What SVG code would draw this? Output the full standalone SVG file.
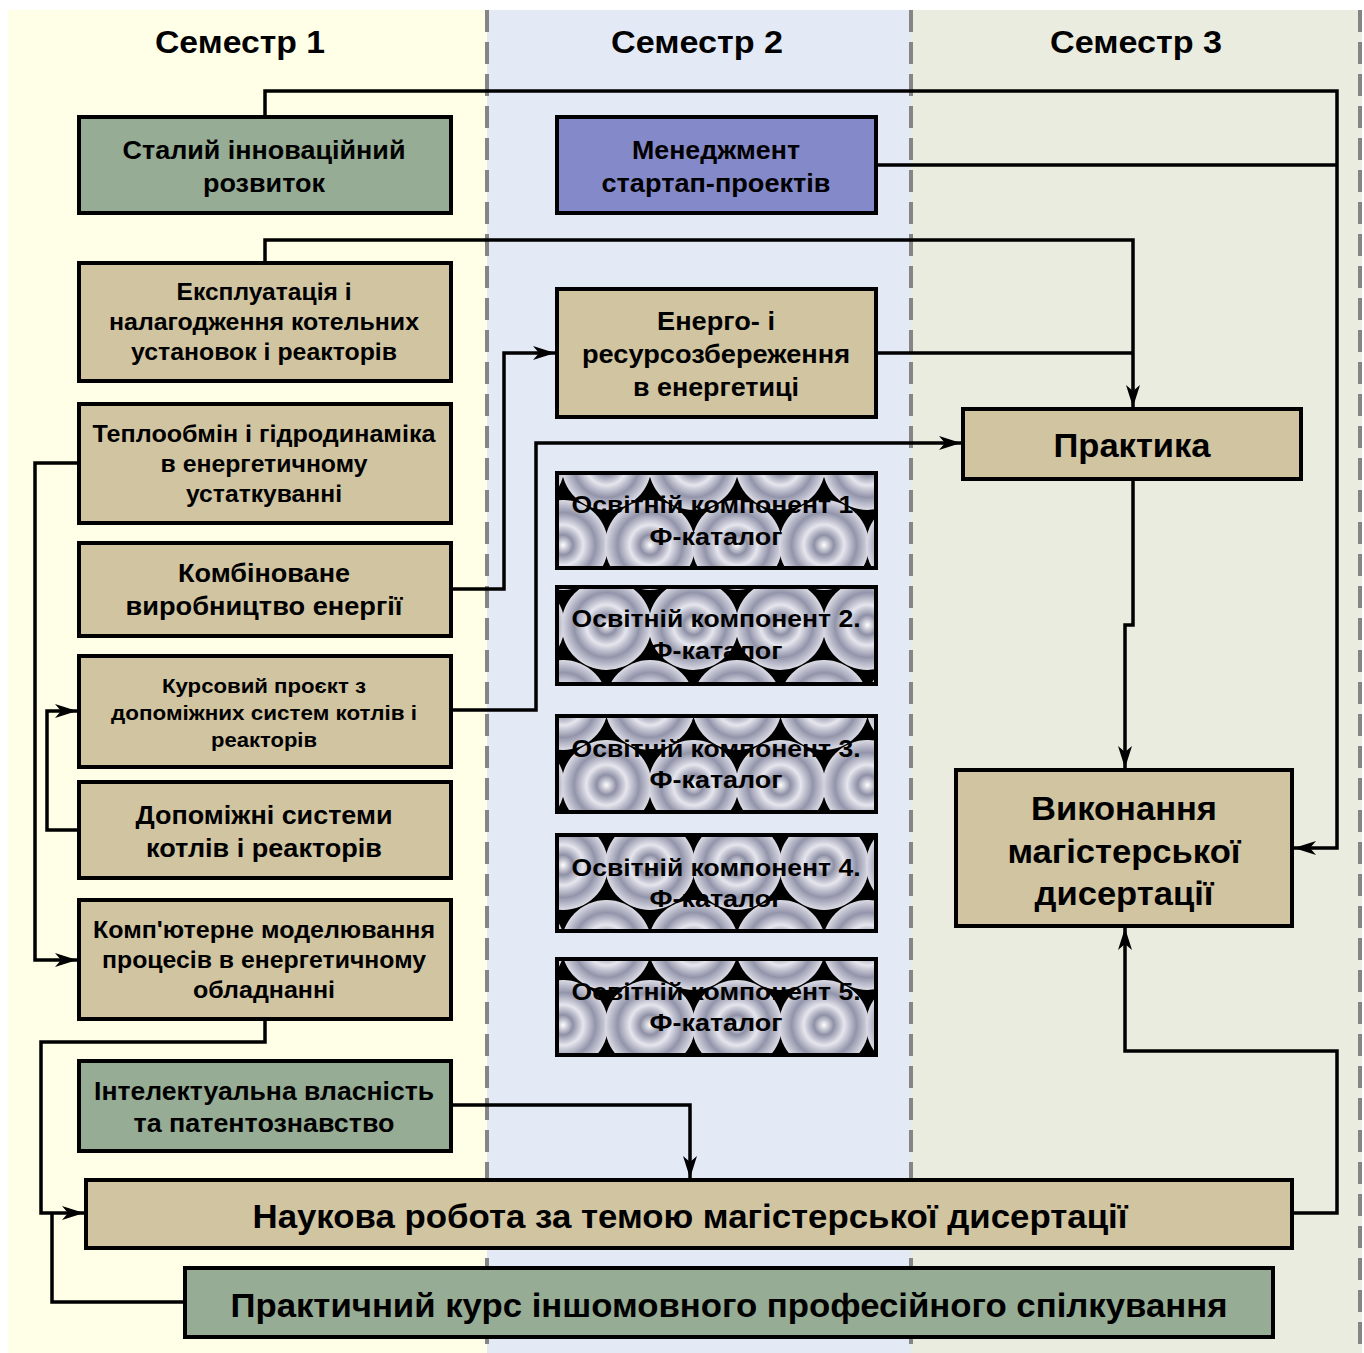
<svg xmlns="http://www.w3.org/2000/svg" width="1364" height="1353" viewBox="0 0 1364 1353">
<defs>
<style>
.box{stroke:#000;stroke-width:4}
.tan{fill:#D1C4A0}
.grn{fill:#96AC94}
.pur{fill:#8489C9}
.t{font-family:"Liberation Sans",Arial,sans-serif;font-weight:bold;fill:#000;text-anchor:middle}
.conn{fill:none;stroke:#000;stroke-width:3.5}
.sep{stroke:#858585;stroke-width:4;stroke-dasharray:22 10}
</style>
<marker id="arr" markerUnits="userSpaceOnUse" markerWidth="24" markerHeight="16" refX="22" refY="8" orient="auto">
<path d="M0,1 L22,8 L0,15 L6,8 z" fill="#000"/>
</marker>
<radialGradient id="ring" cx="0.5" cy="0.5" r="0.5">
<stop offset="0" stop-color="#ffffff"/>
<stop offset="0.22" stop-color="#8e90a6"/>
<stop offset="0.45" stop-color="#e6e6ee"/>
<stop offset="0.72" stop-color="#9294aa"/>
<stop offset="1" stop-color="#dcdce6"/>
</radialGradient>
<pattern id="pat" patternUnits="userSpaceOnUse" width="87" height="160" x="563" y="385">
<rect width="87" height="160" fill="#000"/>
<circle cx="0" cy="0" r="45" fill="url(#ring)"/>
<circle cx="87" cy="0" r="45" fill="url(#ring)"/>
<circle cx="43.5" cy="80" r="45" fill="url(#ring)"/>
<circle cx="0" cy="160" r="45" fill="url(#ring)"/>
<circle cx="87" cy="160" r="45" fill="url(#ring)"/>
</pattern>
</defs>

<g id="background">
<rect x="0" y="0" width="1364" height="1353" fill="#fff"/>
<rect x="8" y="10" width="479" height="1343" fill="#FFFFE8"/>
<rect x="487" y="10" width="424" height="1343" fill="#E3EAF6"/>
<rect x="911" y="10" width="451" height="1343" fill="#E9ECDF"/>
<line class="sep" x1="487" y1="10" x2="487" y2="1353"/>
<line class="sep" x1="911" y1="10" x2="911" y2="1353"/>
<line class="sep" x1="1360" y1="10" x2="1360" y2="1353"/>
<text class="t" x="240" y="53" font-size="31" textLength="170" lengthAdjust="spacingAndGlyphs">Семестр 1</text>
<text class="t" x="697" y="53" font-size="31" textLength="172" lengthAdjust="spacingAndGlyphs">Семестр 2</text>
<text class="t" x="1136" y="53" font-size="31" textLength="172" lengthAdjust="spacingAndGlyphs">Семестр 3</text>
</g>

<g id="connectors">
<path class="conn" d="M265,117 V91 H1337 V848 H1294" marker-end="url(#arr)"/>
<path class="conn" d="M876,165 H1337"/>
<path class="conn" d="M265,263 V240 H1133 V407" marker-end="url(#arr)"/>
<path class="conn" d="M876,353 H1133"/>
<path class="conn" d="M451,589 H504 V353 H555" marker-end="url(#arr)"/>
<path class="conn" d="M451,710 H536 V443 H961" marker-end="url(#arr)"/>
<path class="conn" d="M79,463 H35 V960 H77" marker-end="url(#arr)"/>
<path class="conn" d="M79,830 H47 V711 H77" marker-end="url(#arr)"/>
<path class="conn" d="M1133,479 V625 H1125 V768" marker-end="url(#arr)"/>
<path class="conn" d="M265,1019 V1042 H41 V1213 H84" marker-end="url(#arr)"/>
<path class="conn" d="M185,1302 H52 V1213"/>
<path class="conn" d="M451,1105 H690 V1178" marker-end="url(#arr)"/>
<path class="conn" d="M1292,1213 H1337 V1051 H1125 V928" marker-end="url(#arr)"/>
</g>

<g id="n-stalyi">
<rect class="box grn" x="79" y="117" width="372" height="96"/>
<text class="t" x="264" y="159" font-size="25" textLength="283" lengthAdjust="spacingAndGlyphs">Сталий інноваційний</text>
<text class="t" x="264" y="192" font-size="25" textLength="122" lengthAdjust="spacingAndGlyphs">розвиток</text>
</g>
<g id="n-menedzhment">
<rect class="box pur" x="557" y="117" width="319" height="96"/>
<text class="t" x="716" y="159" font-size="25" textLength="168" lengthAdjust="spacingAndGlyphs">Менеджмент</text>
<text class="t" x="716" y="192" font-size="25" textLength="229" lengthAdjust="spacingAndGlyphs">стартап-проектів</text>
</g>
<g id="n-ekspl">
<rect class="box tan" x="79" y="263" width="372" height="118"/>
<text class="t" x="264" y="300" font-size="23" textLength="175" lengthAdjust="spacingAndGlyphs">Експлуатація і</text>
<text class="t" x="264" y="330" font-size="23" textLength="310" lengthAdjust="spacingAndGlyphs">налагодження котельних</text>
<text class="t" x="264" y="360" font-size="23" textLength="266" lengthAdjust="spacingAndGlyphs">установок і реакторів</text>
</g>
<g id="n-energo">
<rect class="box tan" x="557" y="289" width="319" height="128"/>
<text class="t" x="716" y="330" font-size="25" textLength="118" lengthAdjust="spacingAndGlyphs">Енерго- і</text>
<text class="t" x="716" y="363" font-size="25" textLength="268" lengthAdjust="spacingAndGlyphs">ресурсозбереження</text>
<text class="t" x="716" y="396" font-size="25" textLength="166" lengthAdjust="spacingAndGlyphs">в енергетиці</text>
</g>
<g id="n-teplo">
<rect class="box tan" x="79" y="404" width="372" height="119"/>
<text class="t" x="264" y="442" font-size="23" textLength="343" lengthAdjust="spacingAndGlyphs">Теплообмін і гідродинаміка</text>
<text class="t" x="264" y="472" font-size="23" textLength="207" lengthAdjust="spacingAndGlyphs">в енергетичному</text>
<text class="t" x="264" y="502" font-size="23" textLength="156" lengthAdjust="spacingAndGlyphs">устаткуванні</text>
</g>
<g id="n-praktyka">
<rect class="box tan" x="963" y="409" width="338" height="70"/>
<text class="t" x="1132" y="457" font-size="33" textLength="157" lengthAdjust="spacingAndGlyphs">Практика</text>
</g>
<g id="n-komb">
<rect class="box tan" x="79" y="543" width="372" height="93"/>
<text class="t" x="264" y="582" font-size="25" textLength="172" lengthAdjust="spacingAndGlyphs">Комбіноване</text>
<text class="t" x="264" y="615" font-size="25" textLength="277" lengthAdjust="spacingAndGlyphs">виробництво енергії</text>
</g>
<g id="n-kurs">
<rect class="box tan" x="79" y="656" width="372" height="111"/>
<text class="t" x="264" y="693" font-size="20" textLength="204" lengthAdjust="spacingAndGlyphs">Курсовий проєкт з</text>
<text class="t" x="264" y="720" font-size="20" textLength="306" lengthAdjust="spacingAndGlyphs">допоміжних систем котлів і</text>
<text class="t" x="264" y="747" font-size="20" textLength="106" lengthAdjust="spacingAndGlyphs">реакторів</text>
</g>
<g id="n-dopom">
<rect class="box tan" x="79" y="782" width="372" height="96"/>
<text class="t" x="264" y="824" font-size="25" textLength="257" lengthAdjust="spacingAndGlyphs">Допоміжні системи</text>
<text class="t" x="264" y="857" font-size="25" textLength="236" lengthAdjust="spacingAndGlyphs">котлів і реакторів</text>
</g>
<g id="n-komp">
<rect class="box tan" x="79" y="900" width="372" height="119"/>
<text class="t" x="264" y="938" font-size="23" textLength="342" lengthAdjust="spacingAndGlyphs">Комп'ютерне моделювання</text>
<text class="t" x="264" y="968" font-size="23" textLength="324" lengthAdjust="spacingAndGlyphs">процесів в енергетичному</text>
<text class="t" x="264" y="998" font-size="23" textLength="142" lengthAdjust="spacingAndGlyphs">обладнанні</text>
</g>
<g id="n-intel">
<rect class="box grn" x="79" y="1061" width="372" height="90"/>
<text class="t" x="264" y="1100" font-size="25" textLength="340" lengthAdjust="spacingAndGlyphs">Інтелектуальна власність</text>
<text class="t" x="264" y="1132" font-size="25" textLength="261" lengthAdjust="spacingAndGlyphs">та патентознавство</text>
</g>
<g id="n-vykonannia">
<rect class="box tan" x="956" y="770" width="336" height="156"/>
<text class="t" x="1124" y="820" font-size="33" textLength="186" lengthAdjust="spacingAndGlyphs">Виконання</text>
<text class="t" x="1124" y="863" font-size="33" textLength="233" lengthAdjust="spacingAndGlyphs">магістерської</text>
<text class="t" x="1124" y="905" font-size="33" textLength="179" lengthAdjust="spacingAndGlyphs">дисертації</text>
</g>
<g id="n-oc1">
<rect class="box" x="557" y="473" width="319" height="95" fill="url(#pat)"/>
<text class="t" x="716" y="513" font-size="23" textLength="289" lengthAdjust="spacingAndGlyphs">Освітній компонент 1.</text>
<text class="t" x="716" y="545" font-size="23" textLength="133" lengthAdjust="spacingAndGlyphs">Ф-каталог</text>
</g>
<g id="n-oc2">
<rect class="box" x="557" y="587" width="319" height="97" fill="url(#pat)"/>
<text class="t" x="716" y="627" font-size="23" textLength="289" lengthAdjust="spacingAndGlyphs">Освітній компонент 2.</text>
<text class="t" x="716" y="659" font-size="23" textLength="133" lengthAdjust="spacingAndGlyphs">Ф-каталог</text>
</g>
<g id="n-oc3">
<rect class="box" x="557" y="716" width="319" height="96" fill="url(#pat)"/>
<text class="t" x="716" y="757" font-size="23" textLength="289" lengthAdjust="spacingAndGlyphs">Освітній компонент 3.</text>
<text class="t" x="716" y="788" font-size="23" textLength="133" lengthAdjust="spacingAndGlyphs">Ф-каталог</text>
</g>
<g id="n-oc4">
<rect class="box" x="557" y="835" width="319" height="96" fill="url(#pat)"/>
<text class="t" x="716" y="876" font-size="23" textLength="289" lengthAdjust="spacingAndGlyphs">Освітній компонент 4.</text>
<text class="t" x="716" y="907" font-size="23" textLength="133" lengthAdjust="spacingAndGlyphs">Ф-каталог</text>
</g>
<g id="n-oc5">
<rect class="box" x="557" y="959" width="319" height="96" fill="url(#pat)"/>
<text class="t" x="716" y="1000" font-size="23" textLength="289" lengthAdjust="spacingAndGlyphs">Освітній компонент 5.</text>
<text class="t" x="716" y="1031" font-size="23" textLength="133" lengthAdjust="spacingAndGlyphs">Ф-каталог</text>
</g>
<g id="n-naukova">
<rect class="box tan" x="86" y="1180" width="1206" height="68"/>
<text class="t" x="690" y="1228" font-size="33" textLength="875" lengthAdjust="spacingAndGlyphs">Наукова робота за темою магістерської дисертації</text>
</g>
<g id="n-praktychnyi">
<rect class="box grn" x="185" y="1268" width="1088" height="69"/>
<text class="t" x="729" y="1317" font-size="33" textLength="997" lengthAdjust="spacingAndGlyphs">Практичний курс іншомовного професійного спілкування</text>
</g>
</svg>
